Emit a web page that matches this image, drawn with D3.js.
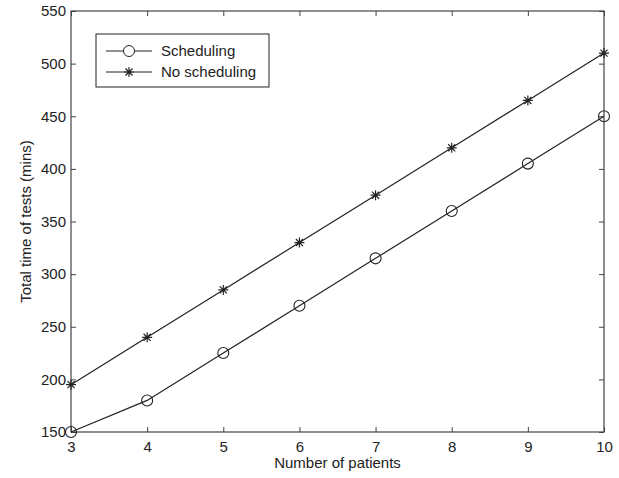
<!DOCTYPE html>
<html>
<head>
<meta charset="utf-8">
<script src="https://cdn.jsdelivr.net/npm/d3@7"></script>
<style>
  body { margin: 0; background: #fff; }
  text { font-family: "Liberation Sans", Arial, sans-serif; }
</style>
</head>
<body>
<script>
const patients = [3, 4, 5, 6, 7, 8, 9, 10];
const scheduling = [150, 180, 225, 270, 315, 360, 405, 450];
const noScheduling = [195, 240, 285, 330, 375, 420, 465, 510];
const yTicks = [150, 200, 250, 300, 350, 400, 450, 500, 550];

const width = 619, height = 478;
const margin = { top: 11, right: 15, bottom: 46, left: 71 };
const iw = width - margin.left - margin.right;
const ih = height - margin.top - margin.bottom;
const fs = 15;

const svg = d3.select("body").append("svg")
  .attr("width", width)
  .attr("height", height);

const g = svg.append("g")
  .attr("transform", `translate(${margin.left},${margin.top})`);

const x = d3.scaleLinear().domain([3, 10]).range([0, iw]);
const y = d3.scaleLinear().domain([150, 550]).range([ih, 0]);

const axisColor = "#444";

// axes with inward ticks, mirrored on top/right
const styleAxis = (sel) => {
  sel.select(".domain").remove();
  sel.selectAll("line").attr("stroke", axisColor);
  sel.selectAll("text").attr("font-size", fs).attr("fill", "#222");
};

g.append("g")
  .attr("transform", `translate(0,${ih})`)
  .call(d3.axisBottom(x).tickValues(patients).tickFormat(d3.format("d")).tickSizeInner(-5).tickSizeOuter(0).tickPadding(9))
  .call(styleAxis);

g.append("g")
  .call(d3.axisLeft(y).tickValues(yTicks).tickSizeInner(-5).tickSizeOuter(0).tickPadding(5))
  .call(styleAxis);

g.append("g")
  .call(d3.axisTop(x).tickValues(patients).tickFormat("").tickSizeInner(-5).tickSizeOuter(0))
  .call(styleAxis);

g.append("g")
  .attr("transform", `translate(${iw},0)`)
  .call(d3.axisRight(y).tickValues(yTicks).tickFormat("").tickSizeInner(-5).tickSizeOuter(0))
  .call(styleAxis);

g.append("rect")
  .attr("width", iw)
  .attr("height", ih)
  .attr("fill", "none")
  .attr("stroke", axisColor)
  .attr("stroke-width", 1.2);

// lines
const line = d3.line().x((d, i) => x(patients[i])).y(d => y(d));

g.append("path").datum(scheduling)
  .attr("d", line).attr("fill", "none").attr("stroke", "#222").attr("stroke-width", 1.2);
g.append("path").datum(noScheduling)
  .attr("d", line).attr("fill", "none").attr("stroke", "#222").attr("stroke-width", 1.2);

const starPath = (cx, cy, r) => {
  let p = "";
  for (let k = 0; k < 4; k++) {
    const a = k * Math.PI / 4;
    const dx = r * Math.cos(a), dy = r * Math.sin(a);
    p += `M${cx - dx},${cy - dy}L${cx + dx},${cy + dy}`;
  }
  return p;
};

g.selectAll(".circ").data(scheduling).enter().append("circle")
  .attr("cx", (d, i) => x(patients[i]))
  .attr("cy", d => y(d))
  .attr("r", 5.5)
  .attr("fill", "none")
  .attr("stroke", "#222")
  .attr("stroke-width", 1.1);

g.selectAll(".star").data(noScheduling).enter().append("path")
  .attr("d", (d, i) => starPath(x(patients[i]), y(d), 5))
  .attr("stroke", "#222")
  .attr("stroke-width", 1.2);

// legend
const lg = svg.append("g").attr("transform", "translate(96,34)");
lg.append("rect").attr("width", 173).attr("height", 53)
  .attr("fill", "#fff").attr("stroke", "#222").attr("stroke-width", 1);
lg.append("line").attr("x1", 10).attr("x2", 56).attr("y1", 17).attr("y2", 17).attr("stroke", "#222");
lg.append("circle").attr("cx", 33).attr("cy", 17).attr("r", 5.5).attr("fill", "#fff").attr("stroke", "#222");
lg.append("text").attr("x", 65).attr("y", 22).attr("font-size", fs).attr("fill", "#222").text("Scheduling");
lg.append("line").attr("x1", 10).attr("x2", 56).attr("y1", 38).attr("y2", 38).attr("stroke", "#222");
lg.append("path").attr("d", starPath(33, 38, 5)).attr("stroke", "#222").attr("stroke-width", 1.2);
lg.append("text").attr("x", 65).attr("y", 43).attr("font-size", fs).attr("fill", "#222").text("No scheduling");

// axis titles
svg.append("text")
  .attr("x", margin.left + iw / 2)
  .attr("y", 468)
  .attr("text-anchor", "middle")
  .attr("font-size", fs)
  .attr("fill", "#222")
  .text("Number of patients");

svg.append("text")
  .attr("transform", `translate(31,${margin.top + ih / 2}) rotate(-90)`)
  .attr("text-anchor", "middle")
  .attr("font-size", fs)
  .attr("fill", "#222")
  .text("Total time of tests (mins)");
</script>
</body>
</html>
